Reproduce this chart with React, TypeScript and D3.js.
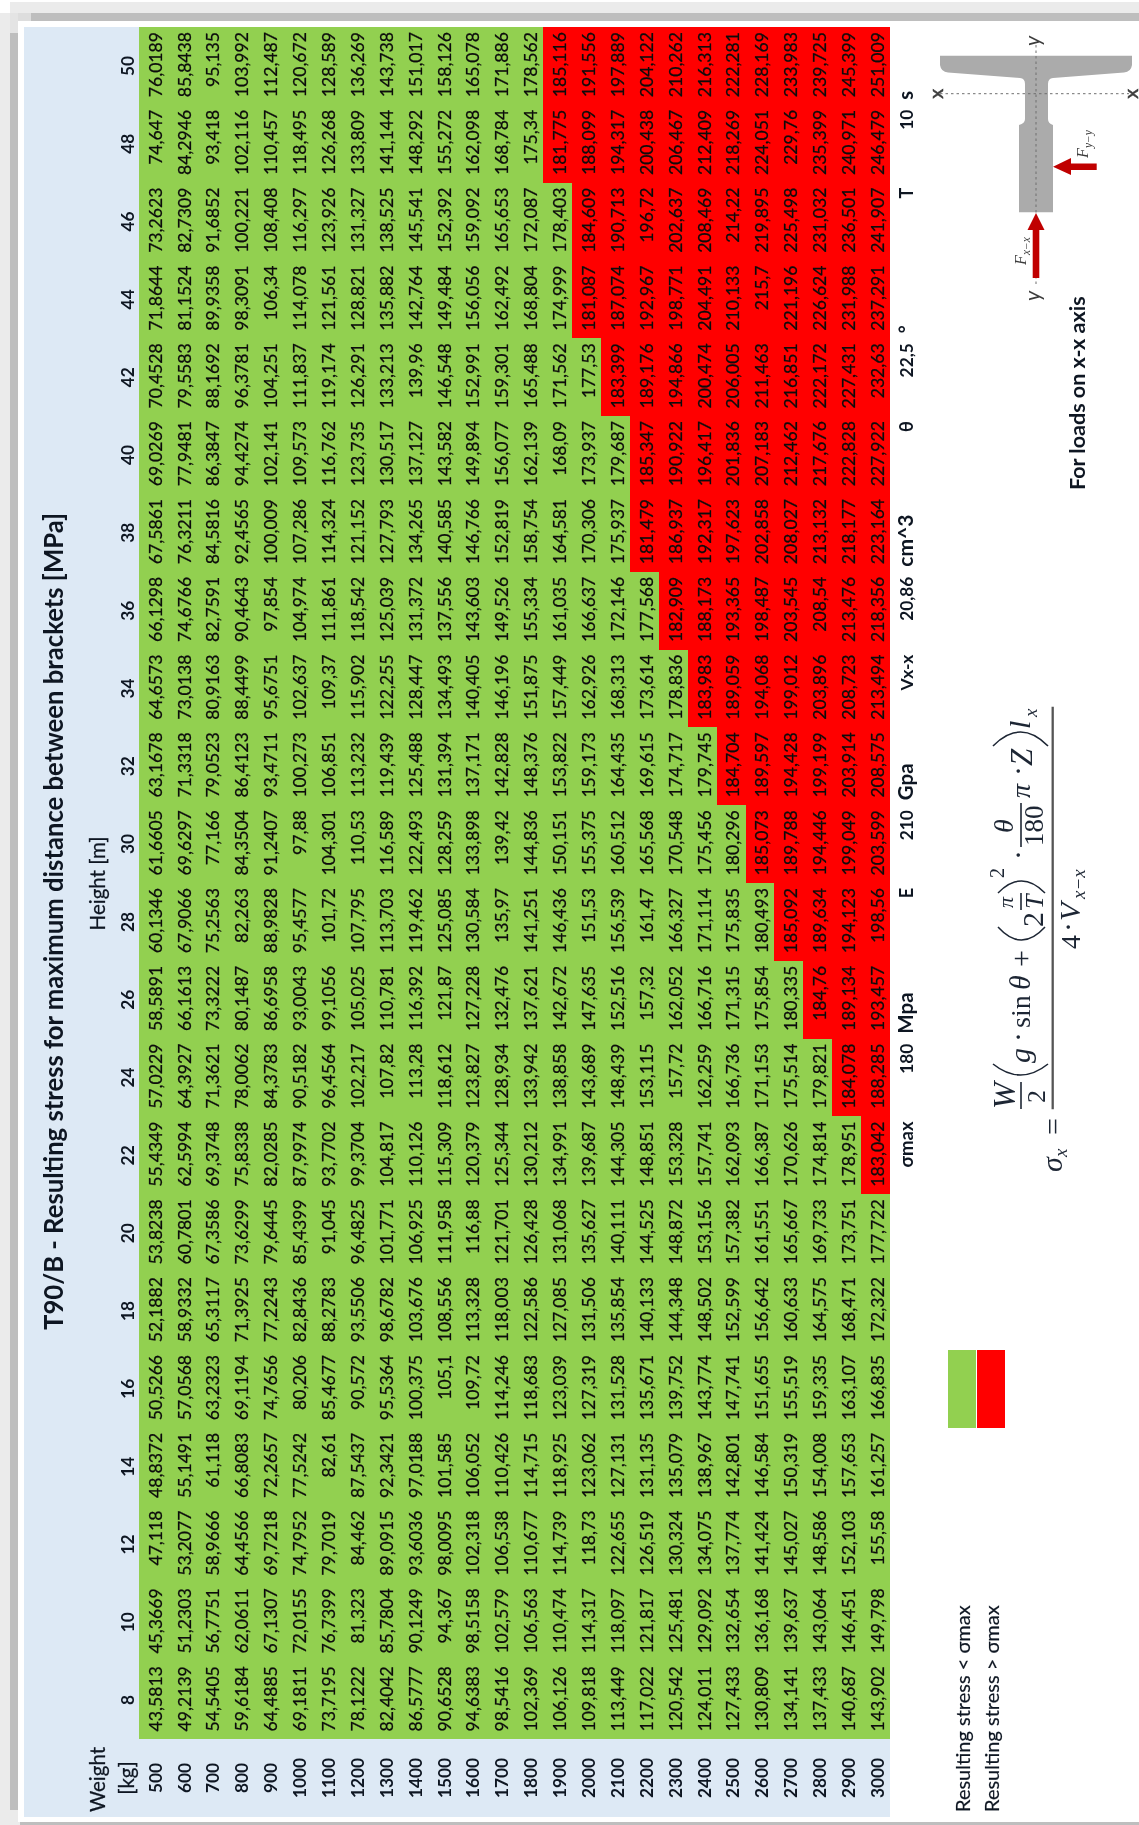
import React from "react";
import * as d3 from "d3";

const title = "T90/B - Resulting stress for maximum distance between brackets [MPa]";
const weights = [500,600,700,800,900,1000,1100,1200,1300,1400,1500,1600,1700,1800,1900,2000,2100,2200,2300,2400,2500,2600,2700,2800,2900,3000];
const heights = [50,48,46,44,42,40,38,36,34,32,30,28,26,24,22,20,18,16,14,12,10,8];

const col50 = [76.0189,85.8438,95.135,103.992,112.487,120.672,128.589,136.269,143.738,151.017,158.126,165.078,171.886,178.562,185.116,191.556,197.889,204.122,210.262,216.313,222.281,228.169,233.983,239.725,245.399,251.009];
const col48 = [74.647,84.2946,93.418,102.116,110.457,118.495,126.268,133.809,141.144,148.292,155.272,162.098,168.784,175.34,181.775,188.099,194.317,200.438,206.467,212.409,218.269,224.051,229.76,235.399,240.971,246.479];
const col46 = [73.2623,82.7309,91.6852,100.221,108.408,116.297,123.926,131.327,138.525,145.541,152.392,159.092,165.653,172.087,178.403,184.609,190.713,196.72,202.637,208.469,214.22,219.895,225.498,231.032,236.501,241.907];
const col44 = [71.8644,81.1524,89.9358,98.3091,106.34,114.078,121.561,128.821,135.882,142.764,149.484,156.056,162.492,168.804,174.999,181.087,187.074,192.967,198.771,204.491,210.133,215.7,221.196,226.624,231.988,237.291];
const col42 = [70.4528,79.5583,88.1692,96.3781,104.251,111.837,119.174,126.291,133.213,139.96,146.548,152.991,159.301,165.488,171.562,177.53,183.399,189.176,194.866,200.474,206.005,211.463,216.851,222.172,227.431,232.63];
const col40 = [69.0269,77.9481,86.3847,94.4274,102.141,109.573,116.762,123.735,130.517,137.127,143.582,149.894,156.077,162.139,168.09,173.937,179.687,185.347,190.922,196.417,201.836,207.183,212.462,217.676,222.828,227.922];
const col38 = [67.5861,76.3211,84.5816,92.4565,100.009,107.286,114.324,121.152,127.793,134.265,140.585,146.766,152.819,158.754,164.581,170.306,175.937,181.479,186.937,192.317,197.623,202.858,208.027,213.132,218.177,223.164];
const col36 = [66.1298,74.6766,82.7591,90.4643,97.854,104.974,111.861,118.542,125.039,131.372,137.556,143.603,149.526,155.334,161.035,166.637,172.146,177.568,182.909,188.173,193.365,198.487,203.545,208.54,213.476,218.356];
const col34 = [64.6573,73.0138,80.9163,88.4499,95.6751,102.637,109.37,115.902,122.255,128.447,134.493,140.405,146.196,151.875,157.449,162.926,168.313,173.614,178.836,183.983,189.059,194.068,199.012,203.896,208.723,213.494];
const col32 = [63.1678,71.3318,79.0523,86.4123,93.4711,100.273,106.851,113.232,119.439,125.488,131.394,137.171,142.828,148.376,153.822,159.173,164.435,169.615,174.717,179.745,184.704,189.597,194.428,199.199,203.914,208.575];
const col30 = [61.6605,69.6297,77.166,84.3504,91.2407,97.88,104.301,110.53,116.589,122.493,128.259,133.898,139.42,144.836,150.151,155.375,160.512,165.568,170.548,175.456,180.296,185.073,189.788,194.446,199.049,203.599];
const col28 = [60.1346,67.9066,75.2563,82.263,88.9828,95.4577,101.72,107.795,113.703,119.462,125.085,130.584,135.97,141.251,146.436,151.53,156.539,161.47,166.327,171.114,175.835,180.493,185.092,189.634,194.123,198.56];
const col26 = [58.5891,66.1613,73.3222,80.1487,86.6958,93.0043,99.1056,105.025,110.781,116.392,121.87,127.228,132.476,137.621,142.672,147.635,152.516,157.32,162.052,166.716,171.315,175.854,180.335,184.76,189.134,193.457];
const col24 = [57.0229,64.3927,71.3621,78.0062,84.3783,90.5182,96.4564,102.217,107.82,113.28,118.612,123.827,128.934,133.942,138.858,143.689,148.439,153.115,157.72,162.259,166.736,171.153,175.514,179.821,184.078,188.285];
const col22 = [55.4349,62.5994,69.3748,75.8338,82.0285,87.9974,93.7702,99.3704,104.817,110.126,115.309,120.379,125.344,130.212,134.991,139.687,144.305,148.851,153.328,157.741,162.093,166.387,170.626,174.814,178.951,183.042];
const col20 = [53.8238,60.7801,67.3586,73.6299,79.6445,85.4399,91.045,96.4825,101.771,106.925,111.958,116.88,121.701,126.428,131.068,135.627,140.111,144.525,148.872,153.156,157.382,161.551,165.667,169.733,173.751,177.722];
const col18 = [52.1882,58.9332,65.3117,71.3925,77.2243,82.8436,88.2783,93.5506,98.6782,103.676,108.556,113.328,118.003,122.586,127.085,131.506,135.854,140.133,144.348,148.502,152.599,156.642,160.633,164.575,168.471,172.322];
const col16 = [50.5266,57.0568,63.2323,69.1194,74.7656,80.206,85.4677,90.572,95.5364,100.375,105.1,109.72,114.246,118.683,123.039,127.319,131.528,135.671,139.752,143.774,147.741,151.655,155.519,159.335,163.107,166.835];
const col14 = [48.8372,55.1491,61.118,66.8083,72.2657,77.5242,82.61,87.5437,92.3421,97.0188,101.585,106.052,110.426,114.715,118.925,123.062,127.131,131.135,135.079,138.967,142.801,146.584,150.319,154.008,157.653,161.257];
const col12 = [47.118,53.2077,58.9666,64.4566,69.7218,74.7952,79.7019,84.462,89.0915,93.6036,98.0095,102.318,106.538,110.677,114.739,118.73,122.655,126.519,130.324,134.075,137.774,141.424,145.027,148.586,152.103,155.58];
const col10 = [45.3669,51.2303,56.7751,62.0611,67.1307,72.0155,76.7399,81.323,85.7804,90.1249,94.367,98.5158,102.579,106.563,110.474,114.317,118.097,121.817,125.481,129.092,132.654,136.168,139.637,143.064,146.451,149.798];
const col8 = [43.5813,49.2139,54.5405,59.6184,64.4885,69.1811,73.7195,78.1222,82.4042,86.5777,90.6528,94.6383,98.5416,102.369,106.126,109.818,113.449,117.022,120.542,124.011,127.433,130.809,134.141,137.433,140.687,143.902];
const columns = [col50,col48,col46,col44,col42,col40,col38,col36,col34,col32,col30,col28,col26,col24,col22,col20,col18,col16,col14,col12,col10,col8];

// The sheet colours cells red from about 180.5 (180,493 is still green, 181,087 red).
const redFrom = 180.5;
const legendLabels = ["Resulting stress < σmax", "Resulting stress > σmax"];

const GREEN = "#92D050", RED = "#FF0000", BLUE = "#DDE9F5", INK = "#0c0c0c", NAVY = "#0e1622";
const LATO = "Lato, sans-serif";
const SERIF = "'Liberation Serif', serif";

const x = d3.scaleBand<number>().domain(weights).range([139, 890]);
const y = d3.scaleBand<number>().domain(heights).range([27, 1739]);
const rowStep = x.step();
const rowLeft = (offset: number) => 890 + offset * rowStep; // rows below the table
const BASE = 22.7;
const fmt = (v: number) => String(v).replace(".", ",");

type RTProps = { x: number; y: number; a?: "start" | "middle" | "end"; s: number; w?: number; f?: string; i?: boolean; c?: string; len?: number; bold?: number; children: React.ReactNode };
const RT = ({ x, y, a = "start", s, w = 400, f = LATO, i = false, c = INK, len, bold, children }: RTProps) => (
  <text
    transform={`translate(${x},${y}) rotate(-90)`}
    textAnchor={a}
    fontFamily={f}
    fontSize={s}
    fontWeight={w}
    fontStyle={i ? "italic" : "normal"}
    fill={c}
    {...(bold ? { stroke: c, strokeWidth: bold } : {})}
    {...(len ? { textLength: len, lengthAdjust: "spacingAndGlyphs" } : {})}
  >
    {children}
  </text>
);

// parameter row beneath the table: [height column, side, text, font size]
const paramCells: [number, "end" | "start", string, number][] = [
  [22, "end", "σmax", 18.5], [24, "end", "180", 17.3], [26, "start", "Mpa", 20.5],
  [28, "end", "E", 18], [30, "end", "210", 17.3], [32, "start", "Gpa", 20.5],
  [34, "end", "Vx-x", 17.5], [36, "end", "20,86", 17.3], [38, "start", "cm^3", 21],
  [40, "end", "θ", 18], [42, "end", "22,5", 17.3], [44, "start", "°", 19],
  [46, "end", "T", 18], [48, "end", "10", 17.3], [50, "start", "s", 20],
];

const paren = (x0: number, x1: number, yEnd: number, yCtrl: number) => {
  const p = d3.path();
  p.moveTo(x0, yEnd);
  p.quadraticCurveTo((x0 + x1) / 2, yCtrl, x1, yEnd);
  return p.toString();
};

const Formula = () => {
  const c = "#1d2634";
  const t = { f: SERIF, c };
  const rule = (xx: number, y0: number, y1: number, sw = 1.6, col = c) => (
    <line x1={xx} x2={xx} y1={y0} y2={y1} stroke={col} strokeWidth={sw} />
  );
  return (
    <g>
      {rule(1052.7, 706.7, 1109.3, 2.3, "#555")}
      <RT {...t} x={1062} y={1172} s={30} i>σ</RT>
      <RT {...t} x={1067} y={1157} s={19} i>x</RT>
      <RT {...t} x={1063} y={1135} s={30}>=</RT>
      <RT {...t} x={1015} y={1109} s={32} i>W</RT>
      {rule(1021, 1082, 1109)}
      <RT {...t} x={1045} y={1103} s={26}>2</RT>
      <path d={paren(993, 1048, 1064, 1086)} fill="none" stroke={c} strokeWidth={1.6} />
      <RT {...t} x={1030} y={1063} s={30} i>g</RT>
      <RT {...t} x={1028} y={1042} s={30}>·</RT>
      <RT {...t} x={1030} y={1028} s={28}>sin</RT>
      <RT {...t} x={1030} y={990} s={30} i>θ</RT>
      <RT {...t} x={1031} y={967} s={30}>+</RT>
      <path d={paren(998, 1045, 927, 953)} fill="none" stroke={c} strokeWidth={1.5} />
      <RT {...t} x={1043} y={927} s={30}>2</RT>
      {rule(1021, 893, 910)}
      <RT {...t} x={1013} y={908} s={22} i>π</RT>
      <RT {...t} x={1043} y={909} s={26} i>T</RT>
      <path d={paren(998, 1045, 893, 869)} fill="none" stroke={c} strokeWidth={1.5} />
      <RT {...t} x={1004} y={878} s={20}>2</RT>
      <RT {...t} x={1028} y={860} s={30}>·</RT>
      <RT {...t} x={1013} y={833} s={28} i>θ</RT>
      {rule(1021, 803, 847)}
      <RT {...t} x={1043} y={846} s={27}>180</RT>
      <RT {...t} x={1030} y={798} s={28} i>π</RT>
      <RT {...t} x={1028} y={776} s={30}>·</RT>
      <RT {...t} x={1032} y={766} s={31} i>Z</RT>
      <path d={paren(993, 1048, 746, 718)} fill="none" stroke={c} strokeWidth={1.6} />
      <RT {...t} x={1030} y={729} s={30} i>l</RT>
      <RT {...t} x={1037} y={717} s={19} i>x</RT>
      <RT {...t} x={1080} y={949} s={28}>4</RT>
      <RT {...t} x={1078} y={932} s={30}>·</RT>
      <RT {...t} x={1080} y={921} s={30} i>V</RT>
      <RT {...t} x={1085} y={899} s={19} i>x−x</RT>
    </g>
  );
};

const Diagram = () => {
  const gray = "#ABABAB";
  const dark = "#C00000";
  const shape = d3.path();
  shape.moveTo(940, 55.7);
  shape.lineTo(1132, 55.7);
  shape.lineTo(1132, 65);
  shape.quadraticCurveTo(1131, 72, 1124, 72.5);
  shape.lineTo(1053, 78);
  shape.quadraticCurveTo(1048, 78.5, 1048, 84);
  shape.lineTo(1048, 119);
  shape.quadraticCurveTo(1048, 123.5, 1053, 125);
  shape.lineTo(1053, 212.3);
  shape.lineTo(1019, 212.3);
  shape.lineTo(1019, 125);
  shape.quadraticCurveTo(1025, 123.5, 1025, 119);
  shape.lineTo(1025, 84);
  shape.quadraticCurveTo(1025, 78.5, 1020, 78);
  shape.lineTo(948, 72.5);
  shape.quadraticCurveTo(941, 72, 940, 65);
  shape.closePath();

  const up = d3.path();
  up.moveTo(1036, 213); up.lineTo(1044.5, 230); up.lineTo(1039.3, 230); up.lineTo(1039.3, 278);
  up.lineTo(1032.7, 278); up.lineTo(1032.7, 230); up.lineTo(1027.5, 230); up.closePath();

  const left = d3.path();
  left.moveTo(1053, 166.7); left.lineTo(1071, 158); left.lineTo(1071, 163.6); left.lineTo(1096.7, 163.6);
  left.lineTo(1096.7, 169.9); left.lineTo(1071, 169.9); left.lineTo(1071, 175); left.closePath();

  const lbl = { f: SERIF, c: "#3c3c3c", i: true };
  return (
    <g>
      <path d={shape.toString()} fill={gray} />
      <line x1={1036} x2={1036} y1={45} y2={287} stroke="#6f6f6f" strokeWidth={1} strokeDasharray="2.5 3" />
      <line x1={940} x2={1129} y1={93.7} y2={93.7} stroke="#6f6f6f" strokeWidth={1} strokeDasharray="2.5 3" />
      <path d={up.toString()} fill={dark} />
      <path d={left.toString()} fill={dark} />
      <RT {...lbl} x={942.5} y={93.7} a="middle" s={20} i={false} f={LATO} bold={0.5}>x</RT>
      <RT {...lbl} x={1137.5} y={93.7} a="middle" s={20} i={false} f={LATO} bold={0.5}>x</RT>
      <RT {...lbl} x={1040} y={41} a="middle" s={21} f={LATO} i>y</RT>
      <RT {...lbl} x={1040} y={296} a="middle" s={21} f={LATO} i>y</RT>
      <RT {...lbl} x={1026} y={265} s={16}>F</RT>
      <RT {...lbl} x={1030} y={255} s={11.5}>x−x</RT>
      <RT {...lbl} x={1088} y={158} s={16}>F</RT>
      <RT {...lbl} x={1092} y={148} s={11.5}>y−y</RT>
    </g>
  );
};

const Frame = () => (
  <g shapeRendering="crispEdges">
    <rect x={0} y={0} width={1139} height={1825} fill="#fff" />
    <rect x={10} y={2} width={1129} height={11} fill="#EBEBEB" />
    <rect x={0} y={13} width={10} height={1812} fill="#EBEBEB" />
    <rect x={31} y={13} width={1108} height={8} fill="#BEBEBE" />
    <rect x={10} y={33} width={8} height={1777} fill="#BEBEBE" />
    <rect x={18} y={13} width={13} height={8} fill="#DDD" />
    <rect x={10} y={13} width={8} height={20} fill="#E4E4E4" />
    <rect x={10} y={1810} width={1129} height={15} fill="#EBEBEB" />
    <rect x={18} y={21} width={1121} height={1801} fill="#fff" />
    <rect x={20} y={1822} width={1119} height={3} fill="#BEBEBE" />
    <rect x={24} y={27} width={866} height={1790} fill={BLUE} />
  </g>
);

export default function App() {
  return (
    <svg
      width={1139}
      height={1825}
      viewBox="0 0 1139 1825"
      style={{ position: "absolute", left: 0, top: 0, display: "block", filter: "blur(0.45px)" }}
    >
      <Frame />

      <g shapeRendering="crispEdges">
        {columns.map((col, ci) =>
          col.map((v, ri) => (
            <rect
              key={`${ci}-${ri}`}
              x={x(weights[ri])!}
              y={y(heights[ci])!}
              width={x.bandwidth()}
              height={y.bandwidth()}
              fill={v >= redFrom ? RED : GREEN}
            />
          )),
        )}
      </g>

      <g>
        {columns.map((col, ci) =>
          col.map((v, ri) => (
            <RT key={`${ci}-${ri}`} x={x(weights[ri])! + BASE} y={y(heights[ci])! + 5} a="end" s={17.6} bold={0.25}>
              {fmt(v)}
            </RT>
          )),
        )}
      </g>

      <RT x={62.5} y={1330} s={26} w={700} c={NAVY} len={817}>{title}</RT>
      <RT x={105} y={883.5} a="middle" s={20.5} c={NAVY} bold={0.25}>Height [m]</RT>
      <RT x={105} y={1779.5} a="middle" s={20.5} c={NAVY} bold={0.25}>Weight</RT>
      <RT x={134} y={1778} a="middle" s={20.5} c={NAVY} bold={0.25}>[kg]</RT>

      {heights.map((h) => (
        <RT key={h} x={133.8} y={y(h)! + y.bandwidth() / 2} a="middle" s={17.3} w={700} c={NAVY}>{h}</RT>
      ))}
      {weights.map((w) => (
        <RT key={w} x={x(w)! + BASE} y={1778} a="middle" s={17.3} w={700} c={NAVY}>{w}</RT>
      ))}

      {paramCells.map(([h, side, label, size]) => (
        <RT
          key={label}
          x={rowLeft(0) + BASE}
          y={side === "end" ? y(h)! + 5 : y(h)! + y.bandwidth() - 5}
          a={side}
          s={size}
          w={700}
          c={NAVY}
        >
          {label}
        </RT>
      ))}

      <g shapeRendering="crispEdges">
        <rect x={rowLeft(2) + 0.5} y={y(16)!} width={rowStep - 1} height={y.bandwidth()} fill={GREEN} />
        <rect x={rowLeft(3) + 0.5} y={y(16)!} width={rowStep - 1} height={y.bandwidth()} fill={RED} />
      </g>
      {legendLabels.map((l, i) => (
        <RT key={l} x={rowLeft(2 + i) + BASE} y={1812} s={20} c={NAVY} bold={0.2}>{l}</RT>
      ))}

      <RT x={1084.5} y={490} s={21.5} w={700} c={NAVY}>For loads on x-x axis</RT>

      <Formula />
      <Diagram />
    </svg>
  );
}
